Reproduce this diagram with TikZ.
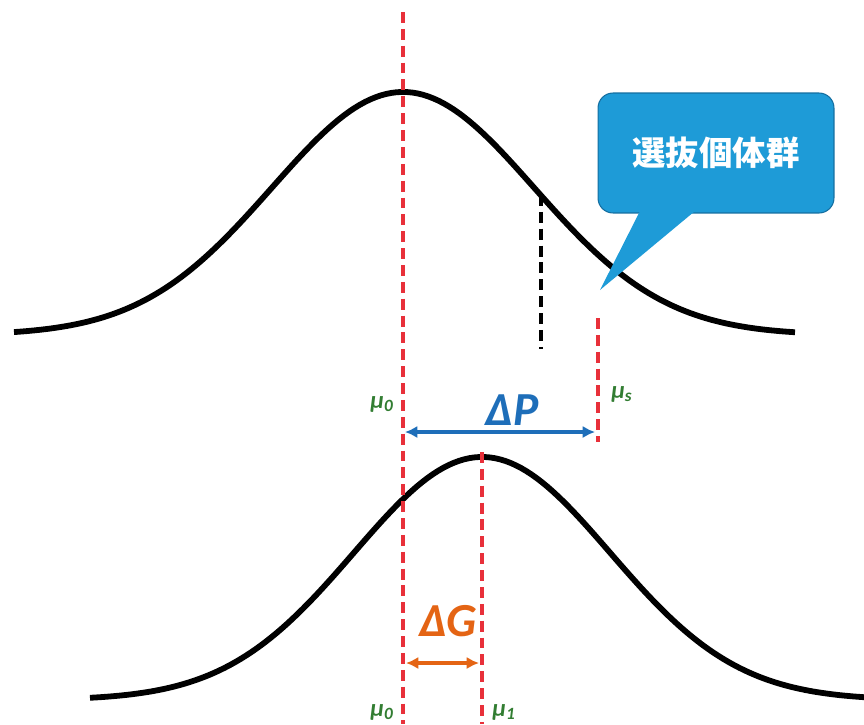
\documentclass[tikz,border=0pt]{standalone}
\usepackage{fontspec}
\usetikzlibrary{arrows.meta}
\newfontfamily\jpfont{Noto Sans CJK JP}
\newfontfamily\calfont{Carlito}
\definecolor{meanred}{RGB}{232,48,58}
\definecolor{mugreen}{RGB}{50,125,50}
\definecolor{dpblue}{RGB}{30,110,185}
\definecolor{dgorange}{RGB}{228,100,20}
\definecolor{bubblefill}{RGB}{30,155,215}
\definecolor{bubbleedge}{RGB}{20,110,160}
\tikzset{
  curve/.style={line width=3.3pt,black},
  meanline/.style={line width=2.1pt,meanred,dash pattern=on 6.2pt off 3.4pt},
  cutline/.style={line width=2.1pt,black,dash pattern=on 6.2pt off 3.4pt},
  mulab/.style={font=\calfont\bfseries\itshape\fontsize{14}{14}\selectfont,text=mugreen,inner sep=0pt},
  difflab/.style={font=\calfont\bfseries\itshape\fontsize{27}{27}\selectfont,inner sep=0pt},
  diffarr/.style={line width=1.8pt,{Latex[length=7pt,width=7pt]}-{Latex[length=7pt,width=7pt]}},
  bubble/.style={draw=bubbleedge,line width=0.6pt,fill=bubblefill,rounded corners=0.3cm,
    minimum width=4.72cm,minimum height=2.4cm,text=white,
    font=\jpfont\bfseries\fontsize{19}{19}\selectfont}
}
\begin{document}
\begin{tikzpicture}[x=0.02cm,y=-0.02cm]
  \useasboundingbox (0,0) rectangle (864,724);
  % distributions
  \draw[curve] plot[domain=14:795,samples=150] (\x,{335-243*exp(-0.5*((\x-403)/131)^2)});
  \draw[curve] plot[domain=90:864,samples=150] (\x,{700-243*exp(-0.5*((\x-482)/128)^2)});
  % means
  \coordinate (m0top) at (403,12);   \coordinate (m0bot) at (403,724);
  \coordinate (m1top) at (482,452);  \coordinate (m1bot) at (482,724);
  \coordinate (mstop) at (598,318);  \coordinate (msbot) at (598,442);
  \coordinate (cuttop) at (541,195); \coordinate (cutbot) at (541,349);
  \draw[meanline] (m0top) -- (m0bot);
  \draw[meanline] (m1top) -- (m1bot);
  \draw[meanline] (mstop) -- (msbot);
  \draw[cutline] (cuttop) -- (cutbot);
  % labels
  \node[mulab] (mu0a) at (382,404) {μ\textsubscript{0}};
  \node[mulab] (mus) at (622,394) {μ\textsubscript{s}};
  \node[mulab] (mu0b) at (382,712) {μ\textsubscript{0}};
  \node[mulab] (mu1) at (504,712) {μ\textsubscript{1}};
  % differences
  \coordinate (dpl) at (405,432); \coordinate (dpr) at (595,432);
  \draw[diffarr,dpblue] (dpl) -- (dpr);
  \node[difflab,text=dpblue] (dP) at (512,410) {ΔP};
  \coordinate (dgl) at (406,663); \coordinate (dgr) at (479,663);
  \draw[diffarr,dgorange] (dgl) -- (dgr);
  \node[difflab,text=dgorange] (dG) at (448,621) {ΔG};
  % callout
  \node[bubble] (callout) at (716,153) {選抜個体群};
  \coordinate (tip) at (600,290);
  \coordinate (pl) at (640,211); \coordinate (pr) at (695,211);
  \fill[bubblefill] (pl) -- (tip) -- (pr) -- cycle;
\end{tikzpicture}
\end{document}
